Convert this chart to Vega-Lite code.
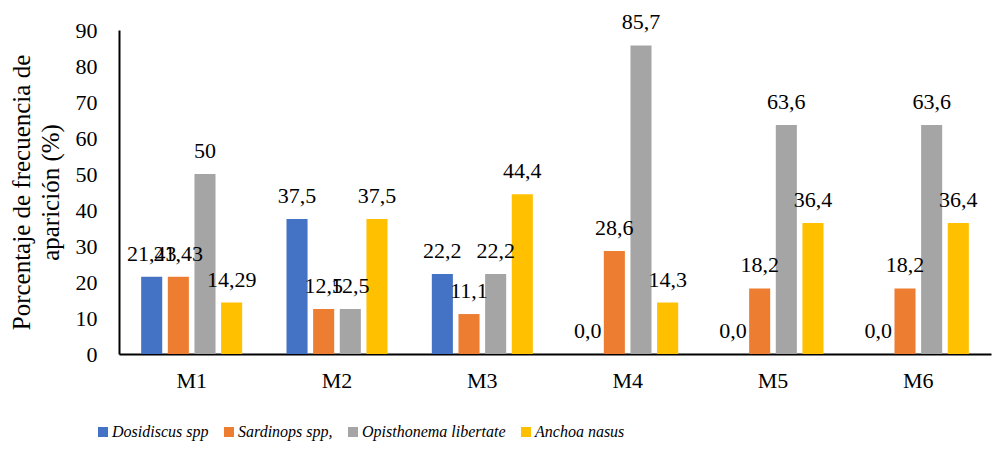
{
  "$schema": "https://vega.github.io/schema/vega-lite/v6.json",
  "width": 872,
  "height": 324,
  "autosize": {"type": "none"},
  "padding": {"left": 119, "top": 30, "right": 1, "bottom": 96},
  "background": "white",
  "config": {
    "view": {"stroke": null},
    "font": "Liberation Serif",
    "axis": {"labelFont": "Liberation Serif", "titleFont": "Liberation Serif"},
    "legend": {"labelFont": "Liberation Serif"},
    "text": {"font": "Liberation Serif"}
  },
  "data": {
    "values": [
      {"muestra": "M1", "especie": "Dosidiscus spp", "valor": 21.43, "etiqueta": "21,43"},
      {"muestra": "M1", "especie": "Sardinops spp,", "valor": 21.43, "etiqueta": "21,43"},
      {"muestra": "M1", "especie": "Opisthonema libertate", "valor": 50, "etiqueta": "50"},
      {"muestra": "M1", "especie": "Anchoa nasus", "valor": 14.29, "etiqueta": "14,29"},
      {"muestra": "M2", "especie": "Dosidiscus spp", "valor": 37.5, "etiqueta": "37,5"},
      {"muestra": "M2", "especie": "Sardinops spp,", "valor": 12.5, "etiqueta": "12,5"},
      {"muestra": "M2", "especie": "Opisthonema libertate", "valor": 12.5, "etiqueta": "12,5"},
      {"muestra": "M2", "especie": "Anchoa nasus", "valor": 37.5, "etiqueta": "37,5"},
      {"muestra": "M3", "especie": "Dosidiscus spp", "valor": 22.2, "etiqueta": "22,2"},
      {"muestra": "M3", "especie": "Sardinops spp,", "valor": 11.1, "etiqueta": "11,1"},
      {"muestra": "M3", "especie": "Opisthonema libertate", "valor": 22.2, "etiqueta": "22,2"},
      {"muestra": "M3", "especie": "Anchoa nasus", "valor": 44.4, "etiqueta": "44,4"},
      {"muestra": "M4", "especie": "Dosidiscus spp", "valor": 0, "etiqueta": "0,0"},
      {"muestra": "M4", "especie": "Sardinops spp,", "valor": 28.6, "etiqueta": "28,6"},
      {"muestra": "M4", "especie": "Opisthonema libertate", "valor": 85.7, "etiqueta": "85,7"},
      {"muestra": "M4", "especie": "Anchoa nasus", "valor": 14.3, "etiqueta": "14,3"},
      {"muestra": "M5", "especie": "Dosidiscus spp", "valor": 0, "etiqueta": "0,0"},
      {"muestra": "M5", "especie": "Sardinops spp,", "valor": 18.2, "etiqueta": "18,2"},
      {"muestra": "M5", "especie": "Opisthonema libertate", "valor": 63.6, "etiqueta": "63,6"},
      {"muestra": "M5", "especie": "Anchoa nasus", "valor": 36.4, "etiqueta": "36,4"},
      {"muestra": "M6", "especie": "Dosidiscus spp", "valor": 0, "etiqueta": "0,0"},
      {"muestra": "M6", "especie": "Sardinops spp,", "valor": 18.2, "etiqueta": "18,2"},
      {"muestra": "M6", "especie": "Opisthonema libertate", "valor": 63.6, "etiqueta": "63,6"},
      {"muestra": "M6", "especie": "Anchoa nasus", "valor": 36.4, "etiqueta": "36,4"}
    ]
  },
  "encoding": {
    "x": {
      "field": "muestra",
      "type": "nominal",
      "scale": {"paddingInner": 0.305, "paddingOuter": 0.1525},
      "axis": {
        "title": null,
        "labelAngle": 0,
        "labelFontSize": 22,
        "labelColor": "#000000",
        "labelPadding": 16,
        "ticks": false,
        "domainColor": "#000000",
        "domainWidth": 2
      }
    },
    "xOffset": {
      "field": "especie",
      "type": "nominal",
      "sort": ["Dosidiscus spp", "Sardinops spp,", "Opisthonema libertate", "Anchoa nasus"],
      "scale": {"paddingInner": 0.21, "paddingOuter": 0}
    },
    "y": {
      "field": "valor",
      "type": "quantitative",
      "scale": {"domain": [0, 90], "nice": false},
      "axis": {
        "title": ["Porcentaje de frecuencia de", "aparición (%)"],
        "titleFontSize": 25,
        "titleFontWeight": "normal",
        "titleColor": "#000000",
        "titlePadding": 12,
        "titleLineHeight": 29,
        "values": [0, 10, 20, 30, 40, 50, 60, 70, 80, 90],
        "grid": false,
        "ticks": false,
        "labelFontSize": 22,
        "labelColor": "#000000",
        "labelPadding": 22,
        "domainColor": "#000000",
        "domainWidth": 2
      }
    }
  },
  "layer": [
    {
      "mark": {"type": "bar"},
      "encoding": {
        "color": {
          "field": "especie",
          "type": "nominal",
          "sort": ["Dosidiscus spp", "Sardinops spp,", "Opisthonema libertate", "Anchoa nasus"],
          "scale": {
            "domain": ["Dosidiscus spp", "Sardinops spp,", "Opisthonema libertate", "Anchoa nasus"],
            "range": ["#4472C4", "#ED7D31", "#A5A5A5", "#FFC000"]
          },
          "legend": {
            "title": null,
            "orient": "none",
            "direction": "horizontal",
            "columns": 4,
            "legendX": -24,
            "legendY": 394,
            "symbolType": "square",
            "symbolSize": 100,
            "symbolStrokeWidth": 0,
            "labelFontSize": 16,
            "labelFontStyle": "italic",
            "labelColor": "#000000",
            "labelLimit": 0,
            "labelOffset": 1,
            "columnPadding": 12
          }
        }
      }
    },
    {
      "mark": {"type": "text", "baseline": "alphabetic", "dy": -16, "fontSize": 22, "color": "#000000"},
      "encoding": {
        "text": {"field": "etiqueta", "type": "nominal"}
      }
    }
  ]
}
